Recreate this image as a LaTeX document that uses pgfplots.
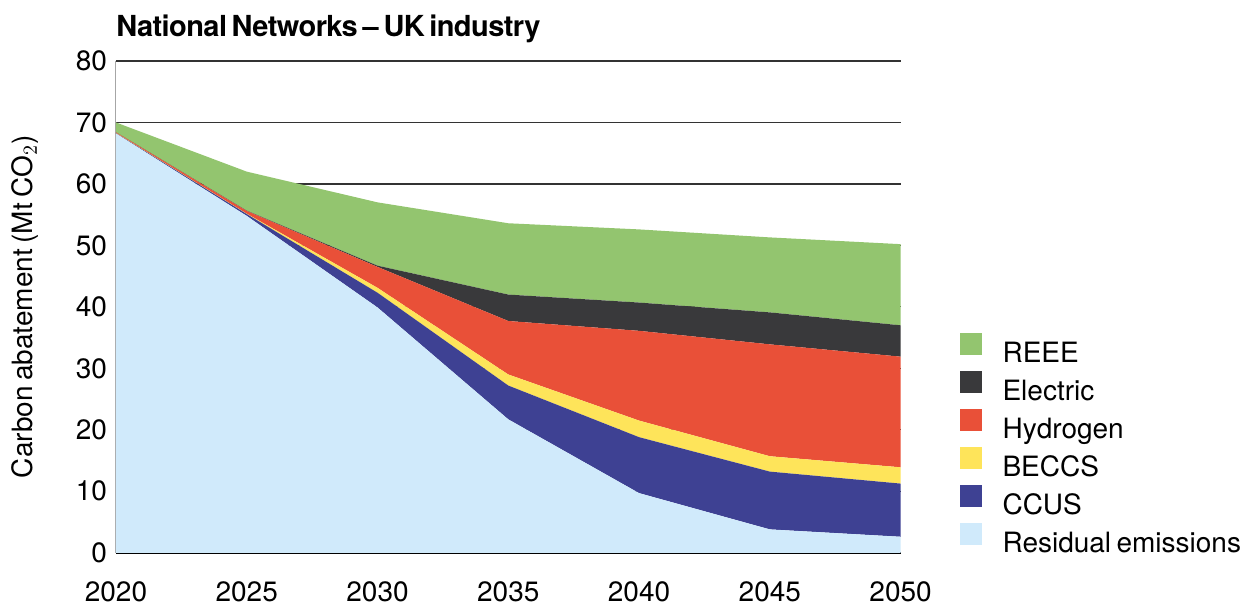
\documentclass[border=0pt]{standalone}
\usepackage{fontspec}
\setmainfont[WordSpace=0.7]{TeX Gyre Heros}
\newfontfamily\titlefont[LetterSpace=-2,WordSpace=0.6]{TeX Gyre Heros}
\usepackage{pgfplots}
\pgfplotsset{compat=1.18}
\definecolor{cReee}{RGB}{147,197,111}
\definecolor{cElec}{RGB}{57,57,59}
\definecolor{cHyd}{RGB}{233,80,56}
\definecolor{cBeccs}{RGB}{254,228,90}
\definecolor{cCcus}{RGB}{62,65,147}
\definecolor{cRes}{RGB}{208,234,251}
\begin{document}
\begin{tikzpicture}
\path (-58pt,-25.5pt) rectangle (562.5pt,276.5pt);
\begin{axis}[
  scale only axis, width=392.5pt, height=246pt,
  xmin=2020, xmax=2050, ymin=0, ymax=80,
  xtick={2020,2025,...,2050}, ytick={0,10,...,80},
  /pgf/number format/assume math mode=true,
  /pgf/number format/1000 sep={},
  tick label style={font=\fontsize{14}{16}\selectfont},
  xticklabel style={yshift=-11pt},
  yticklabel style={xshift=-1pt},
  major tick length=0pt,
  axis x line*=bottom, axis y line*=left,
  x axis line style={black, line width=0.8pt, -},
  y axis line style={black!35, line width=0.5pt, -},
  ymajorgrids, grid style={black!80, line width=0.6pt},
  stack plots=y,
  area style,
  axis on top=false,
  title={National Networks\,–\,UK industry},
  title style={at={(rel axis cs:0,1)}, anchor=base west, yshift=6pt, inner sep=0pt, font=\fontsize{14.5}{16}\titlefont\bfseries},
  ylabel={Carbon abatement (Mt CO$_2$)},
  ylabel style={at={(rel axis cs:0,0.5)}, anchor=center, yshift=45.5pt, font=\fontsize{14}{16}\selectfont},
  reverse legend,
  legend cell align=left,
  legend style={draw=none, fill=none, inner sep=0pt, outer sep=0pt,
    at={(rel axis cs:1,0)}, anchor=south west, xshift=29.5pt, yshift=-2.75pt,
    row sep=1.5pt, column sep=10.5pt,
    font=\fontsize{14}{16}\selectfont,
    nodes={inner sep=0pt, text height=11pt, text depth=3pt}},
  legend image code/.code={\fill[#1] (0pt,-0.5pt) rectangle (11pt,10.5pt);},
]
\addplot[fill=cRes, draw=none] coordinates {(2020,68.2) (2025,54.8) (2030,39.9) (2035,21.7) (2040,9.7) (2045,3.8) (2050,2.6)} \closedcycle;
\addlegendentry{Residual emissions}
\addplot[fill=cCcus, draw=none] coordinates {(2020,0.05) (2025,0.3) (2030,2.4) (2035,5.5) (2040,9.1) (2045,9.4) (2050,8.65)} \closedcycle;
\addlegendentry{CCUS}
\addplot[fill=cBeccs, draw=none] coordinates {(2020,0.05) (2025,0.05) (2030,0.8) (2035,1.8) (2040,2.7) (2045,2.5) (2050,2.65)} \closedcycle;
\addlegendentry{BECCS}
\addplot[fill=cHyd, draw=none] coordinates {(2020,0.1) (2025,0.45) (2030,3.4) (2035,8.7) (2040,14.6) (2045,18.2) (2050,18.0)} \closedcycle;
\addlegendentry{Hydrogen}
\addplot[fill=cElec, draw=none] coordinates {(2020,0.0) (2025,0.05) (2030,0.2) (2035,4.3) (2040,4.6) (2045,5.2) (2050,5.1)} \closedcycle;
\addlegendentry{Electric}
\addplot[fill=cReee, draw=none] coordinates {(2020,1.6) (2025,6.35) (2030,10.3) (2035,11.6) (2040,11.9) (2045,12.2) (2050,13.2)} \closedcycle;
\addlegendentry{REEE}
\end{axis}
\end{tikzpicture}
\end{document}
